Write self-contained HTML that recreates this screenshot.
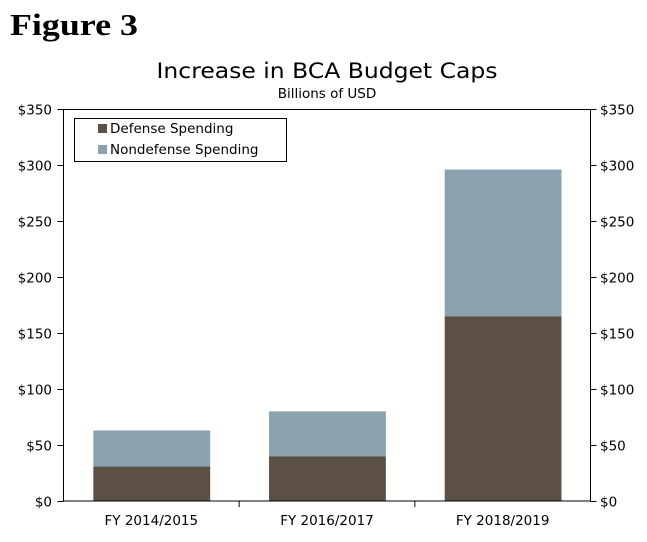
<!DOCTYPE html>
<html><head><meta charset="utf-8"><style>
body{margin:0;background:#fff;width:647px;height:537px;overflow:hidden}
svg text{font-family:"DejaVu Sans","Liberation Sans",sans-serif}
</style></head><body>
<svg id="c" width="647" height="537" xmlns="http://www.w3.org/2000/svg">
<text x="10" y="35" style="font-family:'Liberation Serif',serif" font-weight="bold" font-size="31" textLength="128" lengthAdjust="spacingAndGlyphs">Figure 3</text>
<text x="327" y="78" text-anchor="middle" font-size="21" textLength="341" lengthAdjust="spacingAndGlyphs">Increase in BCA Budget Caps</text>
<text x="327" y="98" text-anchor="middle" font-size="13.5">Billions of USD</text>
<g id="marks"></g>
<rect x="63.5" y="109.5" width="527" height="391.5" fill="none" stroke="#000"/>
<g id="axes"></g>
<g>
<rect x="74.5" y="118.5" width="212" height="43" fill="#fff" stroke="#000"/>
<rect x="98" y="124" width="9" height="9" fill="#5c5045"/>
<text x="110" y="133" font-size="13.5">Defense Spending</text>
<rect x="98" y="145" width="9" height="9" fill="#8aa2b0"/>
<text x="110" y="154" font-size="13.5">Nondefense Spending</text>
</g>
</svg>
<script>
const categories=["FY 2014/2015","FY 2016/2017","FY 2018/2019"];
const defense=[31,40,165];
const nondefense=[32,40,131];
const ticks=[0,50,100,150,200,250,300,350];
const tickLabels=["$0","$50","$100","$150","$200","$250","$300","$350"];
const NS="http://www.w3.org/2000/svg";
const L=63.5,R=590.5,T=109,B=501,ymax=350;
const y=v=>B-(v/ymax)*(B-T);
const band=(R-L)/categories.length;
const marks=document.getElementById('marks'),axes=document.getElementById('axes');
function mk(tag,attrs,parent){const e=document.createElementNS(NS,tag);for(const k in attrs)e.setAttribute(k,attrs[k]);parent.appendChild(e);return e;}
categories.forEach((c,i)=>{
  const x=L+band*i+band*0.17,w=band*0.665;
  const d=mk('rect',{x:x,y:y(defense[i]),width:w,height:B-y(defense[i]),fill:'#5c5045'},marks);
  
  
  const tot=defense[i]+nondefense[i];
  const n=mk('rect',{x:x,y:y(tot),width:w,height:y(defense[i])-y(tot),fill:'#8aa2b0'},marks);
  
  
  const t=mk('text',{x:L+band*(i+0.5),y:525,'text-anchor':'middle','font-size':'13.5'},axes);
  t.textContent=c;
  
  
  if(i>0){const tk=mk('line',{x1:L+band*i,x2:L+band*i,y1:B,y2:B+6,stroke:'#000'},axes);
    
    }
});
ticks.forEach((v,i)=>{
  const yy=Math.round(y(v))+0.5;
  const a=mk('line',{x1:L-6,x2:L,y1:yy,y2:yy,stroke:'#000'},axes);
  
  
  const b=mk('line',{x1:R,x2:R+6,y1:yy,y2:yy,stroke:'#000'},axes);
  
  
  const t1=mk('text',{x:52,y:yy+5,'text-anchor':'end','font-size':'13.5'},axes);
  t1.textContent=tickLabels[i];
  
  
  const t2=mk('text',{x:600,y:yy+5,'font-size':'13.5'},axes);
  t2.textContent=tickLabels[i];
  
  
});
</script>
</body></html>
